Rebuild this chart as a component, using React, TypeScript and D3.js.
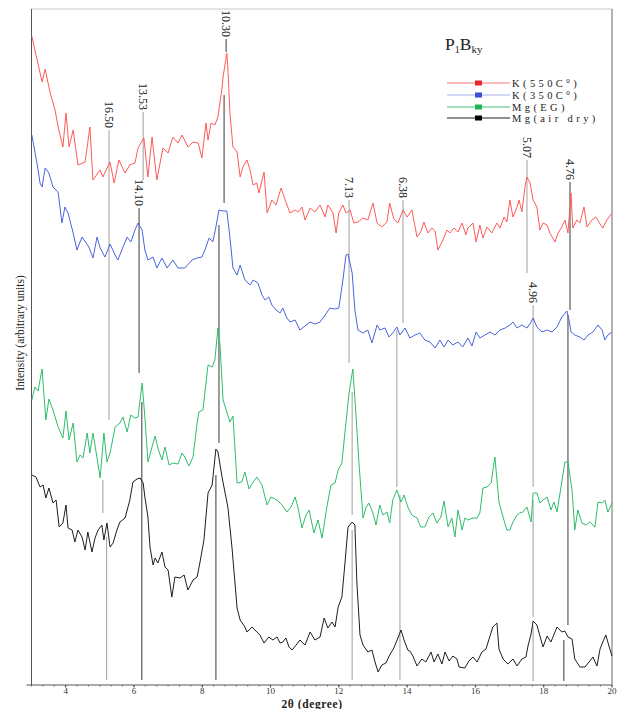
import React from 'react';
import * as d3 from 'd3';

// XRD patterns, 2θ (degree) vs stacked intensity (arbitrary units)
const k550: [number, number][] = [
  [3.01, 652], [3.10, 638], [3.31, 606], [3.40, 619], [3.54, 596], [3.69, 578], [3.78, 561], [3.92, 541],
  [4.01, 575], [4.10, 541], [4.22, 558], [4.36, 523], [4.57, 526], [4.71, 561], [4.80, 508], [5.01, 518],
  [5.09, 511], [5.30, 526], [5.42, 505], [5.56, 528], [5.74, 515], [5.88, 523], [6.03, 525], [6.12, 540],
  [6.29, 550], [6.41, 511], [6.53, 551], [6.67, 508], [6.85, 540], [7.00, 535], [7.14, 551], [7.29, 545],
  [7.41, 553], [7.58, 541], [7.73, 546], [7.88, 545], [7.99, 530], [8.11, 565], [8.17, 548], [8.26, 565],
  [8.37, 563], [8.46, 571], [8.58, 600], [8.61, 611], [8.72, 635], [8.75, 621], [8.81, 575], [8.90, 541],
  [9.02, 536], [9.11, 511], [9.19, 521], [9.31, 528], [9.40, 518], [9.49, 503], [9.60, 505], [9.66, 495],
  [9.81, 516], [9.90, 475], [10.04, 488], [10.16, 483], [10.31, 500], [10.45, 486], [10.57, 475], [10.72, 478],
  [10.80, 476], [10.92, 481], [11.01, 468], [11.16, 480], [11.30, 476], [11.45, 483], [11.60, 471], [11.68, 483],
  [11.83, 475], [11.92, 455], [12.00, 475], [12.12, 483], [12.21, 475], [12.33, 478], [12.44, 465], [12.56, 466],
  [12.71, 470], [12.85, 468], [13.00, 485], [13.12, 465], [13.26, 461], [13.41, 466], [13.49, 485], [13.61, 469],
  [13.73, 465], [13.88, 478], [14.00, 471], [14.14, 478], [14.29, 451], [14.40, 456], [14.49, 466], [14.61, 455],
  [14.73, 460], [14.82, 457], [14.90, 438], [15.05, 448], [15.17, 458], [15.25, 455], [15.37, 460], [15.49, 456],
  [15.61, 465], [15.72, 453], [15.78, 460], [15.93, 465], [16.02, 446], [16.13, 463], [16.22, 450], [16.34, 461],
  [16.48, 455], [16.63, 465], [16.72, 460], [16.84, 471], [16.92, 466], [17.01, 488], [17.10, 471], [17.22, 481],
  [17.28, 488], [17.36, 476], [17.45, 501], [17.51, 511], [17.60, 505], [17.69, 488], [17.80, 481], [17.89, 458],
  [17.98, 465], [18.10, 463], [18.18, 455], [18.33, 446], [18.42, 455], [18.53, 461], [18.62, 468], [18.71, 455],
  [18.80, 495], [18.85, 460], [18.97, 468], [19.06, 465], [19.18, 481], [19.27, 461], [19.41, 468], [19.53, 471],
  [19.65, 464], [19.73, 460], [19.85, 468], [20.00, 475],
];

const k350: [number, number][] = [
  [3.01, 553], [3.16, 525], [3.25, 505], [3.31, 501], [3.40, 520], [3.51, 515], [3.63, 501], [3.78, 496],
  [3.89, 465], [3.98, 481], [4.07, 475], [4.22, 455], [4.33, 438], [4.48, 451], [4.60, 445], [4.68, 441],
  [4.80, 430], [4.92, 451], [5.01, 440], [5.15, 431], [5.30, 444], [5.45, 433], [5.53, 428], [5.68, 441],
  [5.80, 451], [5.91, 446], [6.03, 458], [6.12, 465], [6.24, 458], [6.32, 438], [6.41, 428], [6.56, 431],
  [6.67, 420], [6.82, 430], [6.97, 420], [7.14, 428], [7.29, 420], [7.49, 420], [7.70, 428], [7.85, 430],
  [7.99, 431], [8.08, 438], [8.20, 450], [8.31, 446], [8.40, 461], [8.49, 478], [8.61, 477], [8.72, 477],
  [8.81, 451], [8.90, 420], [9.02, 413], [9.11, 423], [9.25, 408], [9.40, 403], [9.49, 408], [9.63, 405],
  [9.75, 393], [9.84, 388], [9.95, 391], [10.04, 383], [10.16, 378], [10.28, 375], [10.36, 380], [10.48, 370],
  [10.57, 366], [10.72, 368], [10.86, 358], [11.01, 362], [11.16, 366], [11.30, 364], [11.45, 366], [11.60, 373],
  [11.74, 380], [11.89, 379], [12.00, 380], [12.12, 408], [12.21, 433], [12.27, 434], [12.39, 415], [12.47, 378],
  [12.56, 358], [12.71, 355], [12.85, 358], [12.97, 345], [13.12, 363], [13.20, 358], [13.35, 360], [13.47, 351],
  [13.58, 355], [13.70, 361], [13.79, 353], [13.94, 360], [14.08, 350], [14.23, 353], [14.37, 355], [14.52, 348],
  [14.67, 346], [14.82, 340], [14.96, 348], [15.08, 341], [15.20, 348], [15.34, 343], [15.49, 346], [15.63, 341],
  [15.78, 350], [15.90, 342], [16.02, 356], [16.13, 350], [16.28, 353], [16.43, 356], [16.57, 353], [16.72, 358],
  [16.87, 360], [17.01, 363], [17.10, 366], [17.22, 360], [17.36, 363], [17.51, 360], [17.63, 366], [17.69, 370],
  [17.80, 361], [17.95, 356], [18.10, 358], [18.24, 356], [18.39, 361], [18.53, 371], [18.68, 377], [18.74, 368],
  [18.80, 356], [18.91, 353], [19.06, 351], [19.18, 348], [19.30, 353], [19.44, 356], [19.59, 363], [19.71, 358],
  [19.79, 348], [19.88, 353], [20.00, 356],
];

const mgEG: [number, number][] = [
  [3.01, 288], [3.10, 301], [3.19, 297], [3.31, 319], [3.42, 268], [3.51, 289], [3.63, 278], [3.78, 261],
  [3.92, 250], [4.01, 277], [4.10, 248], [4.22, 265], [4.33, 226], [4.42, 233], [4.51, 230], [4.63, 255],
  [4.71, 235], [4.80, 255], [4.92, 230], [5.01, 210], [5.12, 255], [5.21, 226], [5.30, 235], [5.45, 261],
  [5.59, 265], [5.68, 271], [5.80, 256], [5.91, 273], [6.03, 270], [6.12, 271], [6.24, 305], [6.32, 271],
  [6.41, 226], [6.53, 241], [6.62, 252], [6.70, 240], [6.82, 228], [6.91, 241], [7.03, 223], [7.14, 225],
  [7.29, 224], [7.41, 235], [7.49, 231], [7.61, 222], [7.73, 231], [7.85, 265], [7.90, 276], [8.02, 278],
  [8.17, 323], [8.29, 321], [8.37, 328], [8.46, 360], [8.52, 343], [8.61, 288], [8.72, 276], [8.81, 266],
  [8.90, 272], [9.02, 205], [9.16, 206], [9.25, 216], [9.37, 199], [9.49, 206], [9.60, 211], [9.75, 203],
  [9.90, 183], [10.01, 191], [10.19, 188], [10.34, 183], [10.48, 176], [10.60, 181], [10.72, 191], [10.80, 181],
  [10.92, 160], [11.04, 173], [11.13, 178], [11.27, 155], [11.39, 168], [11.51, 150], [11.65, 181], [11.77, 203],
  [11.89, 205], [11.98, 218], [12.09, 225], [12.18, 256], [12.30, 295], [12.41, 319], [12.50, 275], [12.59, 225],
  [12.71, 170], [12.79, 180], [12.88, 185], [13.00, 175], [13.09, 163], [13.20, 183], [13.29, 173], [13.41, 176],
  [13.49, 165], [13.58, 188], [13.70, 198], [13.82, 186], [13.91, 193], [14.02, 181], [14.14, 173], [14.29, 170],
  [14.40, 161], [14.52, 161], [14.64, 171], [14.76, 175], [14.87, 165], [14.99, 171], [15.08, 187], [15.20, 161],
  [15.31, 170], [15.40, 151], [15.49, 178], [15.61, 158], [15.69, 170], [15.78, 168], [15.93, 170], [16.05, 170],
  [16.13, 175], [16.22, 200], [16.34, 201], [16.46, 205], [16.57, 231], [16.69, 186], [16.81, 171], [16.92, 158],
  [17.01, 158], [17.10, 166], [17.22, 173], [17.30, 175], [17.39, 176], [17.51, 181], [17.63, 166], [17.69, 195],
  [17.80, 195], [17.89, 185], [17.98, 188], [18.10, 191], [18.21, 178], [18.30, 186], [18.39, 176], [18.53, 206],
  [18.62, 226], [18.71, 226], [18.83, 198], [18.91, 158], [19.00, 178], [19.12, 165], [19.24, 163], [19.35, 166],
  [19.50, 161], [19.59, 186], [19.71, 185], [19.79, 188], [19.88, 176], [20.00, 185],
];

const mgAirDry: [number, number][] = [
  [3.01, 213], [3.13, 211], [3.25, 201], [3.34, 203], [3.42, 190], [3.51, 200], [3.63, 185], [3.72, 188],
  [3.81, 161], [3.92, 165], [4.01, 183], [4.07, 160], [4.19, 158], [4.27, 146], [4.36, 158], [4.48, 151],
  [4.57, 138], [4.65, 156], [4.77, 136], [4.86, 150], [4.95, 158], [5.06, 163], [5.12, 148], [5.21, 165],
  [5.30, 141], [5.39, 145], [5.50, 158], [5.59, 166], [5.74, 170], [5.88, 188], [5.97, 206], [6.09, 209],
  [6.18, 210], [6.27, 205], [6.32, 191], [6.41, 171], [6.47, 141], [6.56, 123], [6.62, 130], [6.70, 125],
  [6.82, 136], [6.91, 121], [7.00, 118], [7.11, 91], [7.20, 111], [7.35, 110], [7.47, 113], [7.58, 98],
  [7.73, 108], [7.85, 111], [7.93, 125], [8.05, 148], [8.17, 195], [8.29, 203], [8.40, 239], [8.46, 236],
  [8.58, 211], [8.67, 195], [8.75, 181], [8.87, 141], [9.02, 80], [9.11, 68], [9.25, 61], [9.31, 56],
  [9.46, 61], [9.60, 56], [9.69, 53], [9.81, 45], [9.95, 51], [10.07, 48], [10.19, 51], [10.28, 45],
  [10.36, 46], [10.45, 50], [10.54, 41], [10.63, 38], [10.75, 43], [10.86, 48], [11.01, 43], [11.16, 56],
  [11.30, 48], [11.45, 51], [11.57, 70], [11.68, 60], [11.80, 66], [11.89, 61], [11.98, 81], [12.09, 91],
  [12.18, 125], [12.27, 161], [12.39, 166], [12.47, 163], [12.53, 105], [12.62, 53], [12.71, 43], [12.85, 36],
  [12.97, 38], [13.06, 26], [13.15, 16], [13.26, 23], [13.38, 25], [13.49, 33], [13.61, 40], [13.73, 50],
  [13.82, 58], [13.91, 48], [14.02, 38], [14.08, 37], [14.17, 32], [14.29, 22], [14.43, 29], [14.55, 26],
  [14.70, 36], [14.79, 26], [14.90, 34], [15.02, 24], [15.11, 36], [15.23, 27], [15.34, 32], [15.46, 29],
  [15.52, 21], [15.69, 20], [15.81, 27], [15.93, 31], [16.05, 26], [16.19, 36], [16.31, 39], [16.40, 49],
  [16.51, 61], [16.63, 65], [16.69, 39], [16.81, 29], [16.95, 24], [17.10, 29], [17.22, 22], [17.36, 29],
  [17.48, 31], [17.54, 42], [17.63, 54], [17.69, 67], [17.80, 63], [17.89, 52], [17.98, 41], [18.10, 52],
  [18.21, 46], [18.39, 61], [18.53, 56], [18.62, 57], [18.71, 51], [18.83, 49], [18.91, 29], [19.06, 21],
  [19.21, 21], [19.35, 27], [19.44, 31], [19.56, 22], [19.65, 39], [19.73, 46], [19.82, 53], [19.91, 42],
  [20.00, 32],
];

// d-spacing (Å) annotations: guide segments as [2θ, from intensity, to intensity]
const peakLabels = ['16.50', '13.53', '14.10', '10.30', '7.13', '6.38', '5.07', '4.96', '4.76'];
const peakGuides: [number, number, number][][] = [
  [[5.27, 558, 268], [5.09, 208, 175], [5.2, 151, 8]],
  [[6.27, 576, 508]],
  [[6.15, 480, 315], [6.23, 286, 8]],
  [[8.7, 649, 636], [8.64, 593, 485], [8.49, 463, 245], [8.4, 213, 8]],
  [[12.3, 488, 325], [12.39, 296, 173], [12.39, 158, 8]],
  [[13.88, 488, 365], [13.7, 358, 201], [13.79, 193, 8]],
  [[17.51, 528, 415]],
  [[17.69, 383, 201], [17.69, 188, 71], [17.69, 62, 7]],
  [[18.77, 506, 378], [18.71, 373, 63], [18.59, 48, 7]],
];
const darkGuides = ['14.10', '10.30', '4.76'];

const xTicks = [4, 6, 8, 10, 12, 14, 16, 18, 20];

const seriesLabels = ['K(550C', 'K(350C', 'Mg(EG)', 'Mg(air dry)'];
const seriesSup = ['0', '0', '', ''];
const seriesData = [k550, k350, mgEG, mgAirDry];
const lineColors = ['#ff5a5a', '#4a64dc', '#2fbd6b', '#1e1e1e'];
const legendLineColors = ['#ff7a7a', '#aab2f2', '#45c47c', '#1e1e1e'];
const markerColors = ['#e8262b', '#3a4fd2', '#22b25a', '#000000'];

const serif = '"Liberation Serif", "Times New Roman", Times, serif';

export default function App() {
  const W = 622;
  const H = 709;
  const left = 31.5;
  const right = 612;
  const top = 9;
  const bottom = 685;

  const x = d3.scaleLinear().domain([3, 20]).range([left, right]);
  const y = d3.scaleLinear().domain([3, 679]).range([bottom, top]);
  const line = d3
    .line<[number, number]>()
    .x((d) => x(d[0]))
    .y((d) => y(d[1]));

  const minor = d3.range(0, 52).map((i) => 3 + i / 3).filter((v) => v <= 20.001);

  const legendX0 = 447;
  const legendX1 = 510;
  const legendY0 = 83;
  const legendDy = 12;

  return (
    <div style={{ position: 'absolute', left: 0, top: 0, background: '#fff' }}>
      <svg width={W} height={H} style={{ display: 'block', background: '#fff' }}>
        {/* frame */}
        <line x1={left} x2={right} y1={top} y2={top} stroke="#c8c8c8" strokeWidth={1} />
        <line x1={right} x2={right} y1={top} y2={bottom} stroke="#9a9a9a" strokeWidth={1.5} />
        <line x1={left} x2={left} y1={top} y2={bottom} stroke="#555" strokeWidth={1} />
        <line x1={left - 5} x2={right} y1={bottom} y2={bottom} stroke="#555" strokeWidth={1} />

        {/* x ticks */}
        {minor.map((v, i) => (
          <line key={'m' + i} x1={x(v)} x2={x(v)} y1={bottom} y2={bottom + 1.5} stroke="#666" strokeWidth={1} />
        ))}
        {xTicks.map((v) => (
          <g key={'t' + v}>
            <line x1={x(v)} x2={x(v)} y1={bottom} y2={bottom + 2.5} stroke="#444" strokeWidth={1} />
            <text
              x={x(v)}
              y={bottom + 9}
              textAnchor="middle"
              fontFamily={serif}
              fontSize={9}
              fill="#333"
            >
              {v}
            </text>
          </g>
        ))}
        <text
          x={312}
          y={707.5}
          textAnchor="middle"
          fontFamily={serif}
          fontSize={11.5}
          fontWeight="bold"
          fill="#222"
          letterSpacing={0.6}
        >
          2θ (degree)
        </text>

        {/* y title */}
        <text
          transform={`translate(24, 333) rotate(-90)`}
          textAnchor="middle"
          fontFamily={serif}
          fontSize={11.5}
          fill="#222"
        >
          Intensity (arbitrary units)
        </text>

        {/* guide lines for d-spacings */}
        {peakGuides.map((segs, i) =>
          segs.map((s, j) => (
            <line
              key={`g${i}-${j}`}
              x1={x(s[0])}
              x2={x(s[0])}
              y1={y(s[1])}
              y2={y(s[2])}
              stroke={darkGuides.includes(peakLabels[i]) ? '#5a5a5a' : '#a0a0a0'}
              strokeWidth={darkGuides.includes(peakLabels[i]) ? 1.2 : 1}
            />
          ))
        )}

        {/* patterns */}
        {seriesData.map((d, i) => (
          <path key={'s' + i} d={line(d) || ''} fill="none" stroke={lineColors[i]} strokeWidth={1} strokeLinejoin="round" />
        ))}

        {/* d-spacing labels */}
        {peakGuides.map((segs, i) => (
          <text
            key={'l' + i}
            transform={`translate(${x(segs[0][0])}, ${y(segs[0][1]) - 2}) rotate(90)`}
            textAnchor="end"
            dominantBaseline="central"
            fontFamily={serif}
            fontSize={12}
            fill="#222"
          >
            {peakLabels[i]}
          </text>
        ))}

        {/* sample title */}
        <text x={445} y={50} fontFamily={serif} fontSize={17.5} fill="#222">
          P<tspan fontSize={10} dy={3}>1</tspan>
          <tspan dy={-3}>B</tspan>
          <tspan fontSize={11} dy={3}>ky</tspan>
        </text>

        {/* legend */}
        {seriesLabels.map((lab, i) => {
          const ly = legendY0 + i * legendDy - (i === 3 ? 1 : 0);
          return (
            <g key={'lg' + i}>
              <line x1={legendX0} x2={legendX1} y1={ly} y2={ly} stroke={legendLineColors[i]} strokeWidth={1.2} />
              <rect x={(legendX0 + legendX1) / 2 - 3.5} y={ly - 2.5} width={7} height={5} fill={markerColors[i]} />
              <text
                x={legendX1 + 2}
                y={ly + 3.5}
                fontFamily={serif}
                fontSize={10.5}
                fill="#222"
                letterSpacing={3.4}
              >
                {lab}
                {seriesSup[i] ? (
                  <>
                    <tspan fontSize={7} dy={-4}>
                      {seriesSup[i]}
                    </tspan>
                    <tspan dy={4}>)</tspan>
                  </>
                ) : null}
              </text>
            </g>
          );
        })}
      </svg>
    </div>
  );
}
